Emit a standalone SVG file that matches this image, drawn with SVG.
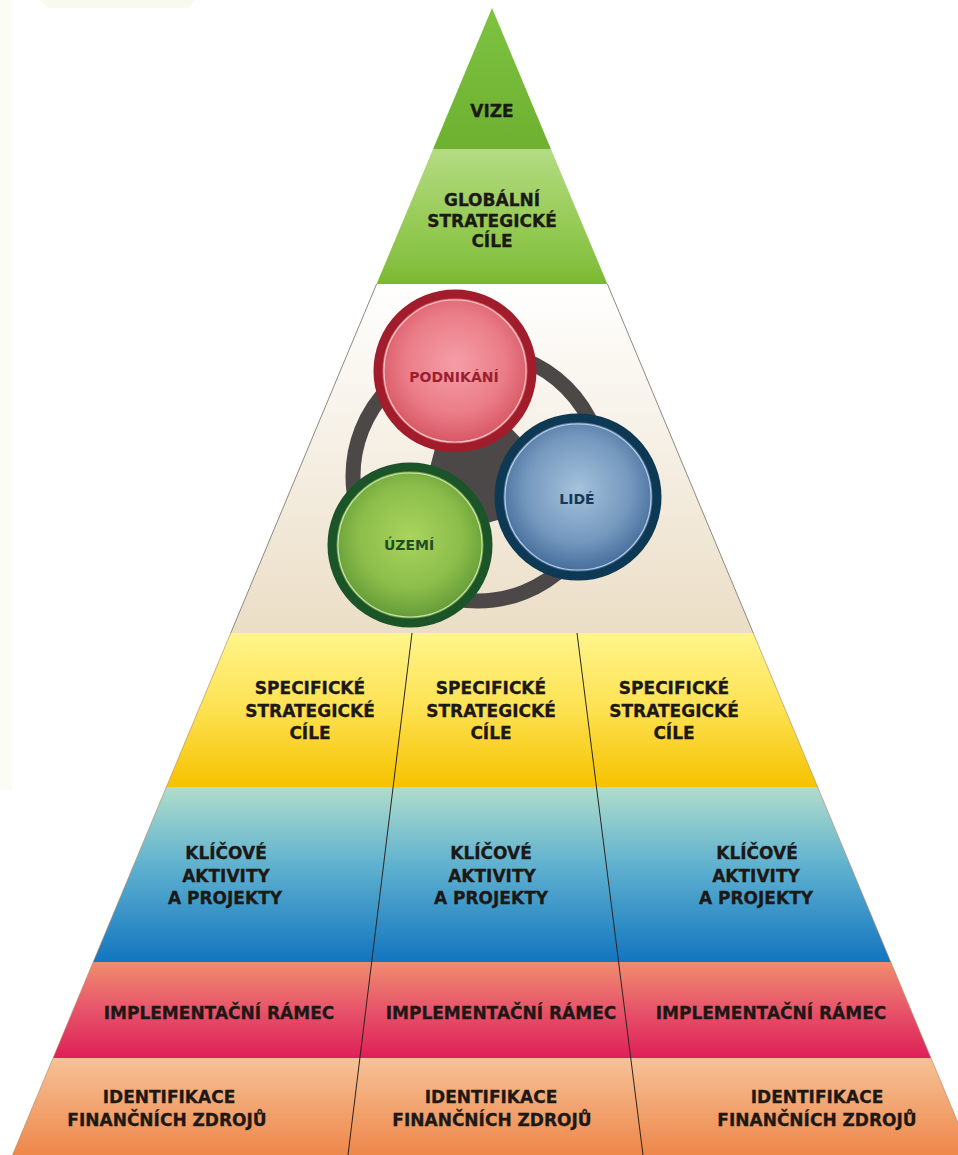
<svg xmlns="http://www.w3.org/2000/svg" width="958" height="1155" viewBox="0 0 958 1155">
<defs>
<linearGradient id="gVize" x1="0" y1="0" x2="0" y2="1"><stop offset="0" stop-color="#7ec242"/><stop offset="1" stop-color="#6eb131"/></linearGradient>
<linearGradient id="gGlob" x1="0" y1="0" x2="0" y2="1"><stop offset="0" stop-color="#b4db83"/><stop offset="0.55" stop-color="#96cb56"/><stop offset="0.85" stop-color="#86c142"/><stop offset="1" stop-color="#78b82e"/></linearGradient>
<linearGradient id="gCream" x1="0" y1="0" x2="0" y2="1"><stop offset="0" stop-color="#ffffff"/><stop offset="1" stop-color="#ebdec6"/></linearGradient>
<linearGradient id="gYellow" x1="0" y1="0" x2="0" y2="1"><stop offset="0" stop-color="#fff58c"/><stop offset="0.5" stop-color="#fde150"/><stop offset="1" stop-color="#f6c200"/></linearGradient>
<linearGradient id="gBlue" x1="0" y1="0" x2="0" y2="1"><stop offset="0" stop-color="#b0ddcb"/><stop offset="0.45" stop-color="#5fb1cf"/><stop offset="1" stop-color="#1275bf"/></linearGradient>
<linearGradient id="gRed" x1="0" y1="0" x2="0" y2="1"><stop offset="0" stop-color="#f08c6e"/><stop offset="0.5" stop-color="#e7546a"/><stop offset="1" stop-color="#de1f57"/></linearGradient>
<linearGradient id="gOrange" x1="0" y1="0" x2="0" y2="1"><stop offset="0" stop-color="#f6c297"/><stop offset="1" stop-color="#ee874a"/></linearGradient>
<radialGradient id="cRed" cx="0.5" cy="0.45" r="0.55"><stop offset="0" stop-color="#f59ea8"/><stop offset="0.6" stop-color="#ea7c87"/><stop offset="1" stop-color="#d4505d"/></radialGradient>
<radialGradient id="cBlue" cx="0.5" cy="0.45" r="0.55"><stop offset="0" stop-color="#a5c2dc"/><stop offset="0.6" stop-color="#7598be"/><stop offset="1" stop-color="#3d6796"/></radialGradient>
<radialGradient id="cGreen" cx="0.5" cy="0.45" r="0.55"><stop offset="0" stop-color="#a9d45e"/><stop offset="0.6" stop-color="#8cbd4a"/><stop offset="1" stop-color="#5d9634"/></radialGradient>
<style>
.t{font-family:"DejaVu Sans","Verdana",sans-serif;font-weight:bold;font-size:17px;fill:#1c1815;stroke:#1c1815;stroke-width:0.3;text-anchor:middle}
.ct{font-family:"DejaVu Sans","Verdana",sans-serif;font-weight:bold;font-size:14px;text-anchor:middle}
.div{stroke:#2a2420;stroke-width:1;fill:none}
.edge{stroke:#8d8a80;stroke-width:1;fill:none}
.inner{fill:none;stroke:#f4dede;stroke-width:1.2;opacity:0.8}
</style>
</defs>
<rect width="958" height="1155" fill="#ffffff"/>
<g id="background">
<rect x="0" y="0" width="12" height="790" fill="#fbfcf4"/>
<polygon points="40,0 195,0 188,8 48,8" fill="#f8faee"/>
</g>

<g id="vize">
<polygon points="492,8 550.9,149 433.1,149" fill="url(#gVize)"/>
<text class="t" x="492" y="117">VIZE</text>
</g>
<g id="globalni-cile">
<polygon points="433.1,149 550.9,149 607.4,284 376.6,284" fill="url(#gGlob)"/>
<text class="t" x="492" y="206">GLOBÁLNÍ</text>
<text class="t" x="492" y="227">STRATEGICKÉ</text>
<text class="t" x="492" y="247">CÍLE</text>
</g>
<g id="pilire">
<polygon points="376.6,284 607.4,284 753.25,633 230.75,633" fill="url(#gCream)"/>
<line class="edge" x1="376.6" y1="284" x2="230.75" y2="633"/>
<line class="edge" x1="607.4" y1="284" x2="753.25" y2="633"/>
<circle cx="478" cy="476" r="125" fill="none" stroke="#4d4848" stroke-width="15"/>
<polygon points="455,371 578,497 410,545" fill="#4d4848"/>
</g>
<g id="podnikani">
<circle cx="455" cy="371" r="77" fill="url(#cRed)" stroke="#a11d2b" stroke-width="9"/>
<circle class="inner" cx="455" cy="371" r="71"/>
<text class="ct" x="454" y="382" fill="#9a2030">PODNIKÁNÍ</text>
</g>
<g id="lide">
<circle cx="578" cy="497" r="79" fill="url(#cBlue)" stroke="#0e3954" stroke-width="9"/>
<circle class="inner" cx="578" cy="497" r="73" style="stroke:#d7e4f0"/>
<text class="ct" x="577" y="504" fill="#163858">LIDÉ</text>
</g>
<g id="uzemi">
<circle cx="410" cy="545" r="78" fill="url(#cGreen)" stroke="#1c5429" stroke-width="9"/>
<circle class="inner" cx="410" cy="545" r="72" style="stroke:#e2f0cf"/>
<text class="ct" x="409" y="550" fill="#1f4d25">ÚZEMÍ</text>
</g>

<g id="specificke-cile">
<polygon points="230.75,633 753.25,633 817.6,787 166.4,787" fill="url(#gYellow)"/>
<g id="spec-1"><text class="t" x="310" y="694">SPECIFICKÉ</text><text class="t" x="310" y="717">STRATEGICKÉ</text><text class="t" x="310" y="739">CÍLE</text></g>
<g id="spec-2"><text class="t" x="491" y="694">SPECIFICKÉ</text><text class="t" x="491" y="717">STRATEGICKÉ</text><text class="t" x="491" y="739">CÍLE</text></g>
<g id="spec-3"><text class="t" x="674" y="694">SPECIFICKÉ</text><text class="t" x="674" y="717">STRATEGICKÉ</text><text class="t" x="674" y="739">CÍLE</text></g>
</g>
<g id="klicove-aktivity">
<polygon points="166.4,787 817.6,787 890.8,962 93.2,962" fill="url(#gBlue)"/>
<g id="akt-1"><text class="t" x="226" y="859">KLÍČOVÉ</text><text class="t" x="226" y="882">AKTIVITY</text><text class="t" x="225" y="904">A PROJEKTY</text></g>
<g id="akt-2"><text class="t" x="491" y="859">KLÍČOVÉ</text><text class="t" x="492" y="882">AKTIVITY</text><text class="t" x="491" y="904">A PROJEKTY</text></g>
<g id="akt-3"><text class="t" x="757" y="859">KLÍČOVÉ</text><text class="t" x="756" y="882">AKTIVITY</text><text class="t" x="756" y="904">A PROJEKTY</text></g>
</g>
<g id="implementacni-ramec">
<polygon points="93.2,962 890.8,962 930.9,1058 53.1,1058" fill="url(#gRed)"/>
<g id="impl-1"><text class="t" x="219" y="1019">IMPLEMENTAČNÍ RÁMEC</text></g>
<g id="impl-2"><text class="t" x="501" y="1019">IMPLEMENTAČNÍ RÁMEC</text></g>
<g id="impl-3"><text class="t" x="771" y="1019">IMPLEMENTAČNÍ RÁMEC</text></g>
</g>
<g id="financni-zdroje">
<polygon points="53.1,1058 930.9,1058 971.5,1155 12.5,1155" fill="url(#gOrange)"/>
<g id="fin-1"><text class="t" x="169" y="1103">IDENTIFIKACE</text><text class="t" x="167" y="1126">FINANČNÍCH ZDROJŮ</text></g>
<g id="fin-2"><text class="t" x="491" y="1103">IDENTIFIKACE</text><text class="t" x="492" y="1126">FINANČNÍCH ZDROJŮ</text></g>
<g id="fin-3"><text class="t" x="817" y="1103">IDENTIFIKACE</text><text class="t" x="817" y="1126">FINANČNÍCH ZDROJŮ</text></g>
</g>

<g id="connectors">
<line class="div" x1="412" y1="633" x2="348" y2="1155"/>
<line class="div" x1="577" y1="633" x2="643" y2="1155"/>
<line class="edge" x1="230.75" y1="633" x2="12.5" y2="1155" style="stroke:#b08060;opacity:0.6"/>
<line class="edge" x1="753.25" y1="633" x2="971.5" y2="1155" style="stroke:#b08060;opacity:0.6"/>
</g>
</svg>
